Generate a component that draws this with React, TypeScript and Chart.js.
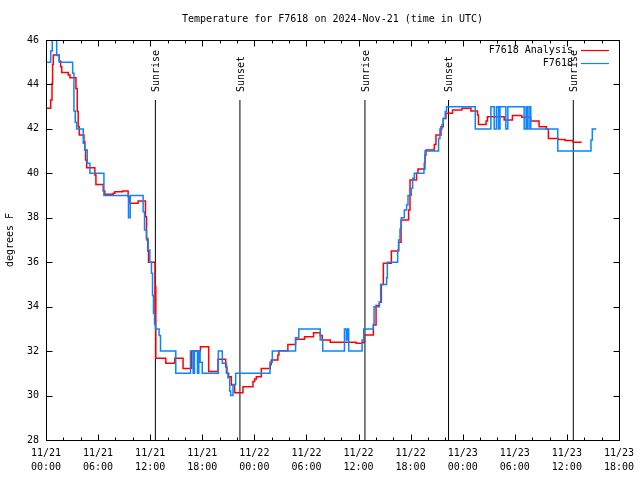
import React, { useEffect, useRef } from 'react';
import { Chart, registerables } from 'chart.js';

Chart.register(...registerables);

const TITLE = 'Temperature for F7618 on 2024-Nov-21 (time in UTC)';
const Y_TITLE = 'degrees F';
const FONT_FAMILY = "'DejaVu Sans Mono', monospace";

// hours since 2024-11-21 00:00 UTC
const X_MIN = 0;
const X_MAX = 66;
const X_MAJOR_STEP = 6;
const X_MINOR_STEP = 2;
const X_TICK_HOURS = [0, 6, 12, 18, 24, 30, 36, 42, 48, 54, 60, 66];
const X_TICK_LABELS = [
  ['11/21', '00:00'], ['11/21', '06:00'], ['11/21', '12:00'], ['11/21', '18:00'],
  ['11/22', '00:00'], ['11/22', '06:00'], ['11/22', '12:00'], ['11/22', '18:00'],
  ['11/23', '00:00'], ['11/23', '06:00'], ['11/23', '12:00'], ['11/23', '18:00'],
];
const Y_MIN = 28;
const Y_MAX = 46;
const Y_TICKS = [28, 30, 32, 34, 36, 38, 40, 42, 44, 46];

const ANALYSIS_LABEL = 'F7618 Analysis';
const analysisHours = [
  0.08, 0.54, 0.69, 0.76, 0.84, 1.53, 1.69, 1.81, 2.56, 2.76, 3.45, 3.6, 3.71, 3.83, 4.37, 4.48,
  4.56, 4.68, 5.63, 5.75, 6.59, 6.78, 7.74, 7.93, 8.82, 9.46, 9.66, 10.61, 11.46, 11.58, 11.73, 11.81,
  12.55, 12.6, 12.65, 13.8, 14.83, 15.79, 16.79, 17.79, 18.74, 19.81, 20.7, 20.85, 21.04, 21.35, 21.73,
  22.69, 23.84, 24.04, 24.23, 24.8, 25.84, 25.95, 26.71, 26.83, 27.86, 28.75, 29.78, 30.82, 31.59, 31.82,
  32.74, 35.72, 36.48, 36.68, 37.71, 38.02, 38.4, 38.63, 38.86, 39.78, 40.62, 40.9, 41.77, 41.93, 42.69,
  42.85, 43.58, 43.66, 43.77, 44.73, 44.92, 45.5, 45.76, 46.07, 46.83, 47.91, 48.95, 49.71, 49.82, 50.7,
  50.85, 52.78, 53.73, 54.81, 55.84, 56.8, 57.64, 57.87, 59.02, 59.79, 60.71, 61.71,
];
const analysisTemps = [
  42.93, 43.3, 44.05, 44.9, 45.33, 45.06, 44.8, 44.54, 44.43, 44.3, 43.82, 42.78, 42.1, 41.73, 41.42, 41.05,
  40.6, 40.25, 39.93, 39.5, 39.2, 39.06, 39.1, 39.17, 39.2, 38.95, 38.65, 38.75, 38.05, 37.07, 36.5, 36.0,
  33.2, 34.9, 31.68, 31.45, 31.68, 31.22, 32.0, 32.2, 31.08, 31.63, 31.28, 31.0, 30.85, 30.47, 30.13,
  30.4, 30.63, 30.75, 30.85, 31.22, 31.4, 31.6, 31.83, 32.02, 32.3, 32.53, 32.65, 32.83, 32.7, 32.5,
  32.4, 32.35, 32.4, 32.73, 33.18, 34.05, 34.2, 35.0, 35.95, 36.5, 36.9, 37.9, 38.35, 39.7, 40.0,
  40.2, 40.45, 40.82, 41.05, 41.3, 41.73, 42.1, 42.47, 42.7, 42.85, 42.93, 42.8, 42.63, 42.2, 42.35,
  42.55, 42.4, 42.6, 42.52, 42.36, 42.1, 42.0, 41.57, 41.52, 41.48, 41.4, 41.4,
];

const OBS_LABEL = 'F7618';
const obsHours = [
  0.08, 0.54, 0.72, 1.23, 1.53, 3.07, 3.22, 3.37, 3.53, 4.29, 4.45, 4.75, 5.06, 6.67, 9.5, 9.7,
  11.19, 11.35, 11.58, 11.77, 11.96, 12.15, 12.27, 12.38, 12.5, 12.61, 13.03, 13.19, 14.95, 16.64, 16.95,
  17.1, 17.45, 17.6, 17.75, 18.0, 19.85, 20.31, 20.78, 20.96, 21.16, 21.27, 21.54, 21.85, 25.8, 26.07,
  28.75, 29.12, 31.59, 31.88, 34.38, 34.6, 34.7, 34.87, 36.41, 36.6, 37.71, 37.79, 38.4, 38.55, 39.24,
  39.32, 40.51, 40.62, 40.78, 40.93, 41.28, 41.54, 41.7, 42.08, 42.23, 42.43, 43.54, 43.66, 45.22, 45.38,
  45.61, 45.76, 45.99, 46.14, 49.45, 51.25, 51.63, 51.89, 52.12, 52.3, 52.97, 53.2, 55.08, 55.3, 55.45,
  55.65, 55.84, 58.95, 62.78, 62.93, 63.39,
];
const obsTemps = [
  45.0, 45.5, 46.3, 45.3, 45.0, 44.5, 42.8, 42.3, 42.0, 41.35, 41.05, 40.45, 40.0, 39.0, 38.0, 39.0,
  38.27, 37.45, 37.0, 36.55, 36.0, 35.5, 34.5, 33.7, 33.25, 33.0, 32.7, 32.0, 31.0, 32.0, 31.0,
  32.0, 31.0, 32.0, 31.5, 31.0, 32.0, 31.45, 31.0, 30.8, 30.2, 30.0, 30.5, 31.0, 31.5, 32.0,
  32.6, 33.0, 32.5, 32.0, 33.0, 32.5, 33.0, 32.0, 32.5, 33.0, 33.2, 34.0, 34.2, 35.0, 35.3,
  36.0, 36.55, 37.0, 37.5, 38.0, 38.35, 38.57, 39.0, 39.33, 39.78, 40.0, 40.2, 41.0, 41.57, 42.0,
  42.2, 42.47, 42.78, 43.0, 42.0, 43.0, 42.0, 43.0, 42.0, 43.0, 42.0, 43.0, 42.0, 43.0, 42.0,
  43.0, 42.0, 41.0, 41.5, 42.0, 42.0,
];

const sunHours = [12.6, 22.34, 36.74, 46.37, 60.74];
const sunLabels = ['Sunrise', 'Sunset', 'Sunrise', 'Sunset', 'Sunrise'];
const SUN_LINE_TOP = 43.3;

const RED = '#ff0000';
const BLUE = '#0a84ff';

const toPoints = (xs: number[], ys: number[]) => xs.map((x, i) => ({ x, y: ys[i] }));

const decorPlugin = {
  id: 'gnuplotDecor',
  afterDraw(chart: any) {
    const { ctx, chartArea: a, scales } = chart;
    const xs = scales.x;
    const ys = scales.y;
    const L = Math.round(a.left) + 0.5;
    const R = Math.round(a.right) + 0.5;
    const T = Math.round(a.top) + 0.5;
    const B = Math.round(a.bottom) + 0.5;
    ctx.save();
    ctx.strokeStyle = '#000';
    ctx.lineWidth = 1;
    ctx.beginPath();
    for (let h = X_MIN; h <= X_MAX; h += X_MINOR_STEP) {
      const px = Math.round(xs.getPixelForValue(h)) + 0.5;
      const len = h % X_MAJOR_STEP === 0 ? 6 : 3;
      ctx.moveTo(px, B);
      ctx.lineTo(px, B - len);
      ctx.moveTo(px, T);
      ctx.lineTo(px, T + len);
    }
    for (const v of Y_TICKS) {
      const py = Math.round(ys.getPixelForValue(v)) + 0.5;
      ctx.moveTo(L, py);
      ctx.lineTo(L + 6, py);
      ctx.moveTo(R, py);
      ctx.lineTo(R - 6, py);
    }
    ctx.stroke();
    ctx.strokeRect(L, T, R - L, B - T);

    ctx.fillStyle = '#000';
    ctx.font = `10px ${FONT_FAMILY}`;
    // title
    ctx.textAlign = 'center';
    ctx.textBaseline = 'middle';
    ctx.fillText(TITLE, (a.left + a.right) / 2, 19.5);
    // y title
    ctx.save();
    ctx.translate(10, (a.top + a.bottom) / 2);
    ctx.rotate(-Math.PI / 2);
    ctx.fillText(Y_TITLE, 0, 0);
    ctx.restore();
    // sunrise / sunset labels
    sunHours.forEach((h, i) => {
      const px = xs.getPixelForValue(h);
      const topY = ys.getPixelForValue(SUN_LINE_TOP);
      ctx.save();
      ctx.translate(px + 1, topY - 8);
      ctx.rotate(-Math.PI / 2);
      ctx.textAlign = 'left';
      ctx.textBaseline = 'middle';
      ctx.fillText(sunLabels[i], 0, 0);
      ctx.restore();
    });
    // legend
    const legendItems = chart.data.datasets.filter((d: any) => d.showInLegend);
    legendItems.forEach((d: any, i: number) => {
      const y = Math.round(a.top + 9.5 + i * 13) + 0.5;
      ctx.textAlign = 'right';
      ctx.textBaseline = 'middle';
      ctx.fillStyle = '#000';
      ctx.fillText(d.label, a.right - 46, y);
      ctx.strokeStyle = d.borderColor;
      ctx.lineWidth = 1.2;
      ctx.beginPath();
      ctx.moveTo(a.right - 38, y);
      ctx.lineTo(a.right - 10, y);
      ctx.stroke();
    });
    ctx.restore();
  },
};

export default function App() {
  const canvasRef = useRef<HTMLCanvasElement | null>(null);

  useEffect(() => {
    const canvas = canvasRef.current;
    if (!canvas) return;
    const sunDatasets = sunHours.map((h, i) => ({
      label: sunLabels[i],
      data: [{ x: h, y: Y_MIN }, { x: h, y: SUN_LINE_TOP }],
      borderColor: '#000',
      borderWidth: 1,
      pointRadius: 0,
      fill: false,
      order: 2,
      showInLegend: false,
    }));
    const chart = new Chart(canvas, {
      type: 'line',
      data: {
        datasets: [
          {
            label: ANALYSIS_LABEL,
            data: toPoints(analysisHours, analysisTemps),
            borderColor: RED,
            borderWidth: 1.5,
            pointRadius: 0,
            stepped: 'before',
            fill: false,
            order: 1,
            showInLegend: true,
          } as any,
          {
            label: OBS_LABEL,
            data: toPoints(obsHours, obsTemps),
            borderColor: BLUE,
            borderWidth: 1.5,
            pointRadius: 0,
            stepped: 'before',
            fill: false,
            order: 0,
            showInLegend: true,
          } as any,
          ...(sunDatasets as any[]),
        ],
      },
      options: {
        animation: false,
        responsive: false,
        devicePixelRatio: 1,
        layout: { padding: { top: 40, right: 20, left: 0, bottom: 0 } },
        plugins: {
          legend: { display: false },
          title: { display: false },
          tooltip: { enabled: false },
        },
        scales: {
          x: {
            type: 'linear',
            min: X_MIN,
            max: X_MAX,
            grid: { display: false, drawTicks: false },
            border: { display: false },
            ticks: {
              stepSize: X_MAJOR_STEP,
              autoSkip: false,
              maxRotation: 0,
              minRotation: 0,
              padding: 6,
              color: '#000',
              font: { family: FONT_FAMILY, size: 10, lineHeight: 1.4 },
              callback: (value: any) => {
                const i = X_TICK_HOURS.indexOf(Number(value));
                return i >= 0 ? X_TICK_LABELS[i] : '';
              },
            },
            afterFit: (scale: any) => {
              scale.height = 40;
            },
          },
          y: {
            type: 'linear',
            min: Y_MIN,
            max: Y_MAX,
            grid: { display: false, drawTicks: false },
            border: { display: false },
            ticks: {
              stepSize: 2,
              padding: 7,
              color: '#000',
              font: { family: FONT_FAMILY, size: 10 },
              callback: (value: any) => String(value),
            },
            afterFit: (scale: any) => {
              scale.width = 46;
            },
          },
        },
      },
      plugins: [decorPlugin],
    });
    return () => chart.destroy();
  }, []);

  return (
    <div style={{ position: 'absolute', left: 0, top: 0, width: 640, height: 480, background: '#fff' }}>
      <canvas ref={canvasRef} width={640} height={480} style={{ width: 640, height: 480 }} />
    </div>
  );
}
